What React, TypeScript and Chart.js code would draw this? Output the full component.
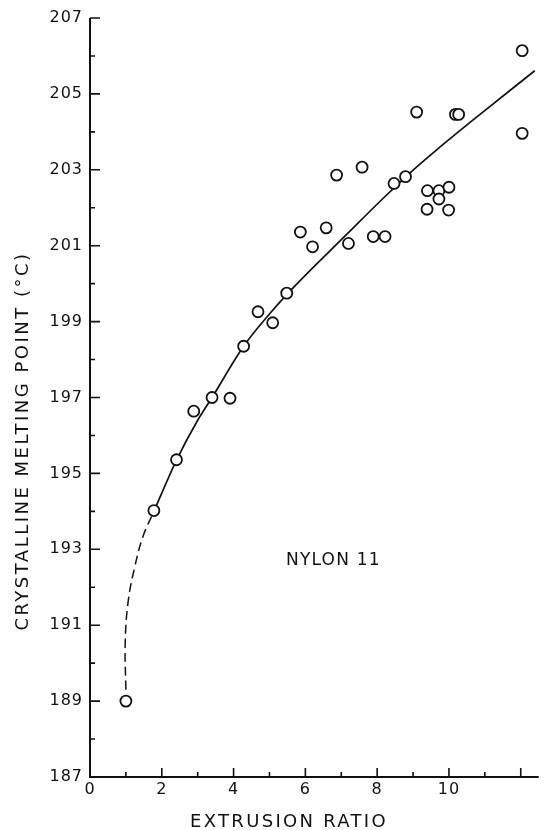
import { useEffect, useRef } from 'react';
import { Chart, registerables } from 'chart.js';

Chart.register(...registerables);

// Measured points (extrusion ratio, crystalline melting point °C)
const ratioValues = [1.0, 1.78, 2.41, 2.89, 3.4, 3.9, 4.28, 4.68, 5.09, 5.48, 5.86, 6.2, 6.58, 6.87, 7.2, 7.58, 7.89, 8.22, 8.47, 8.79, 9.1, 9.4, 9.39, 9.72, 9.72, 10.0, 9.99, 10.18, 10.27, 12.04, 12.04];
const meltValues = [189.0, 194.02, 195.36, 196.64, 197.0, 196.98, 198.35, 199.26, 198.97, 199.75, 201.36, 200.97, 201.47, 202.86, 201.06, 203.07, 201.24, 201.24, 202.64, 202.82, 204.52, 202.45, 201.96, 202.45, 202.23, 202.54, 201.94, 204.46, 204.46, 206.14, 203.96];

// Dashed (extrapolated) part of the fitted curve
const dashedCurveX = [1.0, 0.98, 1.06, 1.25, 1.48, 1.78];
const dashedCurveY = [189.3, 190.5, 191.6, 192.55, 193.35, 194.0];

// Solid part of the fitted curve
const solidCurveX = [1.78, 2.41, 3.0, 3.4, 4.28, 5.0, 5.73, 7.1, 8.19, 9.01, 9.65, 10.84, 12.39];
const solidCurveY = [194.0, 195.35, 196.4, 197.0, 198.35, 199.2, 199.96, 201.25, 202.27, 203.0, 203.52, 204.44, 205.61];

const xTickLabels = [0, 2, 4, 6, 8, 10];
const xMajorTicks = [2, 4, 6, 8, 10, 12];
const xMinorTicks = [1, 3, 5, 7, 9, 11];
const yTickLabels = [187, 189, 191, 193, 195, 197, 199, 201, 203, 205, 207];
const yMajorTicks = [189, 191, 193, 195, 197, 199, 201, 203, 205, 207];
const yMinorTicks = [188, 190, 192, 194, 196, 198, 200, 202, 204, 206];

const X_MIN = 0;
const X_MAX = 12.5;
const Y_MIN = 187;
const Y_MAX = 207;

const xTitle = 'EXTRUSION RATIO';
const yTitle = 'CRYSTALLINE MELTING POINT (°C)';
const seriesLabel = 'NYLON 11';

const INK = '#111111';
const FONT = '"DejaVu Sans", Verdana, sans-serif';

const axesPlugin = {
  id: 'axesTicksTitles',
  beforeDraw(chart: any) {
    chart.ctx.letterSpacing = '1px';
  },
  afterDraw(chart: any) {
    const { ctx, chartArea, scales } = chart;
    const xs = scales.x;
    const ys = scales.y;
    const x0 = xs.getPixelForValue(X_MIN);
    const yb = ys.getPixelForValue(Y_MIN);
    const yt = ys.getPixelForValue(Y_MAX);
    const xr = chartArea.right;
    ctx.save();
    ctx.strokeStyle = INK;
    ctx.lineWidth = 2;
    ctx.beginPath();
    ctx.moveTo(x0, yt);
    ctx.lineTo(x0, yb);
    ctx.lineTo(xr, yb);
    ctx.stroke();
    ctx.lineWidth = 1.6;
    ctx.beginPath();
    yMajorTicks.forEach((v) => {
      const p = ys.getPixelForValue(v);
      ctx.moveTo(x0, p);
      ctx.lineTo(x0 + 10, p);
    });
    yMinorTicks.forEach((v) => {
      const p = ys.getPixelForValue(v);
      ctx.moveTo(x0, p);
      ctx.lineTo(x0 + 5, p);
    });
    xMajorTicks.forEach((v) => {
      const p = xs.getPixelForValue(v);
      ctx.moveTo(p, yb);
      ctx.lineTo(p, yb - 9);
    });
    xMinorTicks.forEach((v) => {
      const p = xs.getPixelForValue(v);
      ctx.moveTo(p, yb);
      ctx.lineTo(p, yb - 5);
    });
    ctx.stroke();

    ctx.fillStyle = INK;
    ctx.font = `18px ${FONT}`;
    ctx.textBaseline = 'alphabetic';
    ctx.textAlign = 'center';
    ctx.letterSpacing = '2.3px';
    ctx.fillText(xTitle, 289, 827);

    ctx.save();
    ctx.translate(28, 441);
    ctx.rotate(-Math.PI / 2);
    ctx.font = `18px ${FONT}`;
    ctx.letterSpacing = '2.5px';
    ctx.fillText(yTitle, 0, 0);
    ctx.restore();

    ctx.font = `17px ${FONT}`;
    ctx.textAlign = 'left';
    ctx.letterSpacing = '1.2px';
    ctx.fillText(seriesLabel, 286, 565);
    ctx.restore();
  },
};

export default function App() {
  const canvasRef = useRef<HTMLCanvasElement | null>(null);

  useEffect(() => {
    const canvas = canvasRef.current;
    if (!canvas) return;
    const points = ratioValues.map((x, i) => ({ x, y: meltValues[i] }));
    const dashed = dashedCurveX.map((x, i) => ({ x, y: dashedCurveY[i] }));
    const solid = solidCurveX.map((x, i) => ({ x, y: solidCurveY[i] }));

    const chart = new Chart(canvas, {
      type: 'scatter',
      data: {
        datasets: [
          {
            label: 'Measured',
            data: points,
            showLine: false,
            pointStyle: 'circle',
            pointRadius: 5.5,
            pointBorderWidth: 1.8,
            borderColor: INK,
            backgroundColor: '#ffffff',
            order: 0,
          },
          {
            label: 'Fit',
            data: solid,
            showLine: true,
            pointRadius: 0,
            borderColor: INK,
            borderWidth: 1.7,
            cubicInterpolationMode: 'monotone',
            fill: false,
            order: 1,
          },
          {
            label: 'Fit (extrapolated)',
            data: dashed,
            showLine: true,
            pointRadius: 0,
            borderColor: INK,
            borderWidth: 1.5,
            borderDash: [9, 5],
            tension: 0.4,
            fill: false,
            order: 2,
          },
        ] as any,
      },
      options: {
        responsive: false,
        animation: false,
        layout: { padding: { top: 18, right: 0, left: 0, bottom: 0 } },
        plugins: {
          legend: { display: false },
          tooltip: { enabled: false },
          title: { display: false },
        },
        scales: {
          x: {
            type: 'linear',
            min: X_MIN,
            max: X_MAX,
            grid: { display: false, drawTicks: false },
            border: { display: false },
            ticks: {
              color: INK,
              font: { family: FONT, size: 16 },
              padding: 3,
              maxRotation: 0,
              autoSkip: false,
            },
            afterBuildTicks: (scale: any) => {
              scale.ticks = xTickLabels.map((v) => ({ value: v }));
            },
            afterFit: (scale: any) => {
              scale.height = 53;
            },
          },
          y: {
            type: 'linear',
            min: Y_MIN,
            max: Y_MAX,
            grid: { display: false, drawTicks: false },
            border: { display: false },
            ticks: {
              color: INK,
              font: { family: FONT, size: 16 },
              padding: 7,
              autoSkip: false,
            },
            afterBuildTicks: (scale: any) => {
              scale.ticks = yTickLabels.map((v) => ({ value: v }));
            },
            afterFit: (scale: any) => {
              scale.width = 90;
            },
          },
        },
      },
      plugins: [axesPlugin],
    });
    return () => chart.destroy();
  }, []);

  return (
    <div style={{ position: 'absolute', left: 0, top: 0, width: 546, height: 830, background: '#fff' }}>
      <canvas ref={canvasRef} width={546} height={830} style={{ display: 'block' }} />
    </div>
  );
}
